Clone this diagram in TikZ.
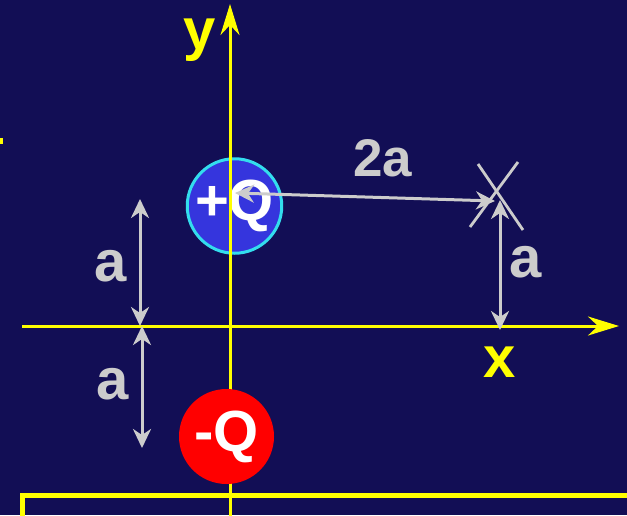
\documentclass[tikz,border=0pt]{standalone}
\usepackage{fontspec}
\setmainfont{Liberation Sans}
\usepackage{xcolor}
\usetikzlibrary{arrows.meta, positioning}

\definecolor{navy}{HTML}{120E55}
\definecolor{chargeblue}{HTML}{3535DD}
\definecolor{chargecyan}{HTML}{33DDEE}
\definecolor{dimgray}{HTML}{CCCCCC}
\definecolor{axisyellow}{HTML}{FFFF00}

\begin{document}
\begin{tikzpicture}[
  x=1pt, y=-1pt,
  axis/.style={axisyellow, line width=3pt, -{Stealth[length=31pt, width=19pt, inset=10pt]}},
  dim/.style={dimgray, line width=3pt, {Stealth[length=19pt, width=18pt, inset=6pt]}-{Stealth[length=19pt, width=18pt, inset=6pt]}},
  charge/.style={circle, minimum size=95pt, inner sep=0pt, text=white, font=\fontsize{58}{58}\selectfont\bfseries},
  lbl/.style={inner sep=0pt, text=dimgray, font=\fontsize{58}{58}\selectfont\bfseries}
]
\fill[navy] (0,0) rectangle (627,515);
\useasboundingbox (0,0) rectangle (627,515);

% frame pieces
\fill[axisyellow] (0,138) rectangle (3,144);
\draw[axisyellow, line width=4.5pt] (22.5,530) |- (640,495.5);

\coordinate (xl) at (22,326);
\coordinate (xr) at (619,326);
\coordinate (yb) at (230,530);
\coordinate (yt) at (230,4);

\node[charge, minimum size=92pt, fill=chargeblue, draw=chargecyan, line width=3pt] (pos) at (234.5,206) {+Q};
\draw[axis] (xl) -- (xr);
\draw[axis] (yb) -- (yt);
\node[charge, fill=red] (neg) at (226.5,436.5) {-Q};

% point P
\coordinate (p1) at (478,164);
\coordinate (p2) at (523,230);
\coordinate (p3) at (518,162);
\coordinate (p4) at (470,227);
\draw[dimgray, line width=2.8pt] (p1) -- (p2);
\draw[dimgray, line width=2.8pt] (p3) -- (p4);

\coordinate (d1t) at (140,199);
\coordinate (d1b) at (140,326);
\coordinate (d2t) at (142,326);
\coordinate (d2b) at (142,448);
\coordinate (d3t) at (500,200);
\coordinate (d3b) at (500,330);
\coordinate (rq) at (235,193);
\coordinate (rp) at (495,201);

\draw[dim] (d1t) -- (d1b);
\draw[dim] (d2t) -- (d2b);
\draw[dim] (d3t) -- (d3b);
\draw[dim] (rq) -- (rp);

\node[lbl] (a1) at (111,266) {a};
\node[lbl] (a2) at (113,384) {a};
\node[lbl] (a3) at (526,262) {a};
\node[lbl, font=\fontsize{53}{53}\selectfont\bfseries] (r2a) at (383,158) {2a};
\node[lbl, text=axisyellow] (xlab) at (500,362) {x};
\node[lbl, text=axisyellow] (ylab) at (200,40) {y};
\end{tikzpicture}
\end{document}
